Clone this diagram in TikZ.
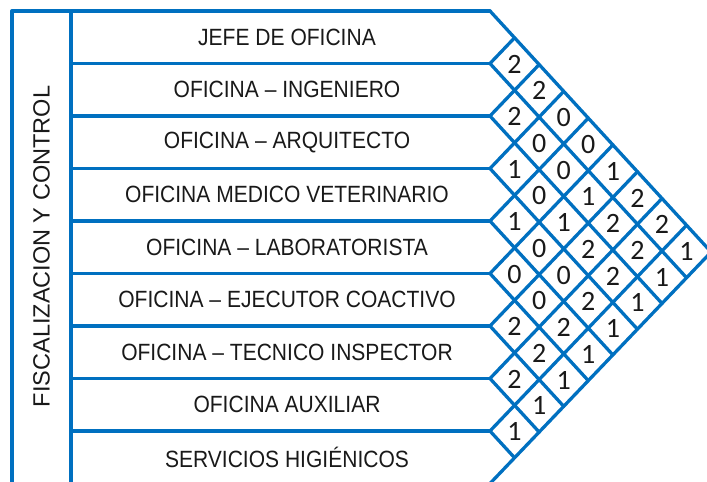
\documentclass[tikz,border=0pt]{standalone}
\usepackage{fontspec}
\setmainfont{Liberation Sans}
\newfontfamily\rowfont[FakeStretch=0.895]{Liberation Sans}
\newfontfamily\digitfont{Carlito}
\definecolor{officeblue}{RGB}{0,112,192}
\tikzset{
	gridline/.style={officeblue,line width=3.3bp,line cap=round,line join=round},
	rowlabel/.style={font=\rowfont\fontsize{23.5bp}{28bp}\selectfont,text=black!90,inner sep=0pt},
	sidelabel/.style={font=\fontsize{23.5bp}{28bp}\selectfont,text=black!90,inner sep=0pt,rotate=90},
	cellvalue/.style={font=\digitfont\fontsize{28bp}{32bp}\selectfont,text=black!90,inner sep=0pt}
}

\begin{document}
\begin{tikzpicture}[x=1bp,y=-1bp]
	\path[use as bounding box,clip] (0,0) rectangle (707,482);
	\draw[gridline] (12,495) -- (12,11) -- (490,11);
	\draw[gridline] (71,11) -- (71,495);
	\foreach \k in {0,...,9} {
		\pgfmathsetmacro{\by}{11+52.5*\k}
		\coordinate (b\k) at (490,\by);
		\coordinate (top\k) at ({490+24.57*\k},{11+26.78*\k});
		\coordinate (bot\k) at ({490+24.57*(9-\k)},{\by+26.78*(9-\k)});
	}
	\foreach \k in {1,...,8}
		\draw[gridline] (b\k) -- ++(-419,0);
	\foreach \k in {1,...,9}
		\draw[gridline] (b\k) -- (top\k);
	\foreach \k in {0,...,8}
		\draw[gridline] (b\k) -- (bot\k);
	\node[sidelabel] (side) at (41.5,246.5) {FISCALIZACION Y CONTROL};
	\foreach \k/\name in {1/JEFE DE OFICINA,2/OFICINA – INGENIERO,3/OFICINA – ARQUITECTO,4/OFICINA MEDICO VETERINARIO,5/OFICINA – LABORATORISTA,6/OFICINA – EJECUTOR COACTIVO,7/OFICINA – TECNICO INSPECTOR,8/OFICINA AUXILIAR,9/SERVICIOS HIGIÉNICOS} {
		\node[rowlabel] (row\k) at (287,{11+52.5*\k-26.25}) {\name};
	}
	\foreach \p/\q/\v in {1/2/2,2/3/2,3/4/1,4/5/1,5/6/0,6/7/2,7/8/2,8/9/1,
		1/3/2,2/4/0,3/5/0,4/6/0,5/7/0,6/8/2,7/9/1,
		1/4/0,2/5/0,3/6/1,4/7/0,5/8/2,6/9/1,
		1/5/0,2/6/1,3/7/2,4/8/2,5/9/1,
		1/6/1,2/7/2,3/8/2,4/9/1,
		1/7/2,2/8/2,3/9/1,
		1/8/2,2/9/1,
		1/9/1} {
		\node[cellvalue] (c\p\q) at ({490+24.57*(\q-\p)},{11+52.5*\p-26.25+26.78*(\q-\p)}) {\v};
	}
\end{tikzpicture}
\end{document}
